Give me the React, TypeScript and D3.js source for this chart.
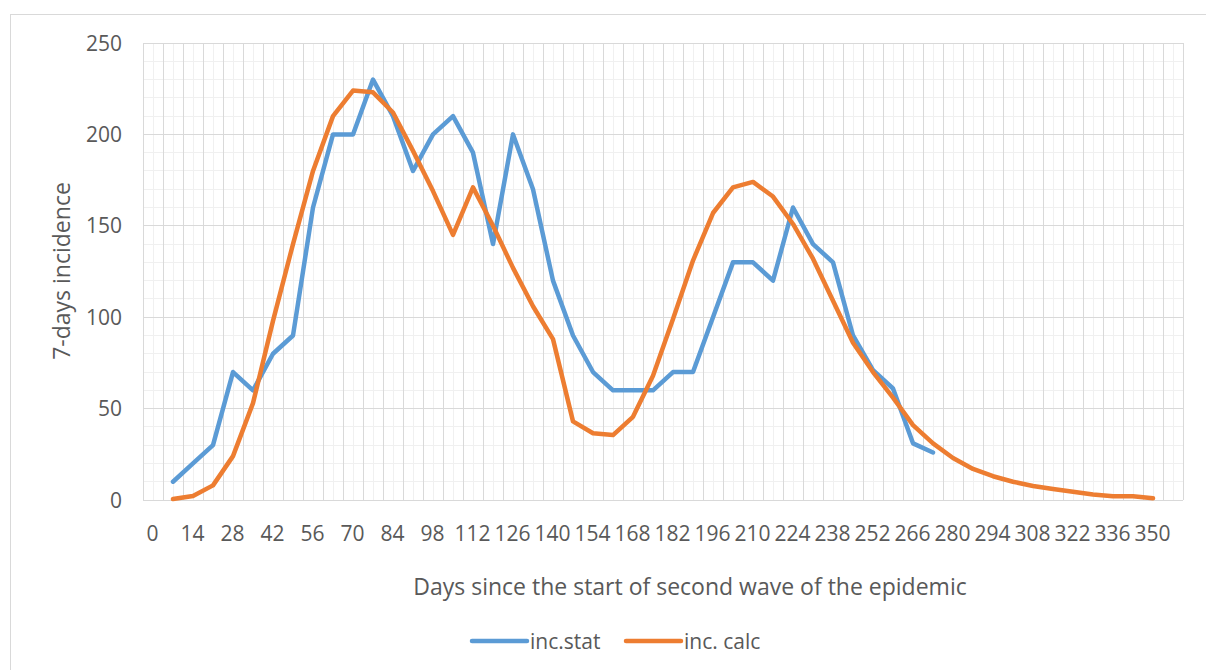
import React, { useRef, useEffect } from "react";
import * as d3 from "d3";

// categories on the x axis (days), labels shown on every second one
const days: number[] = [
  0, 7, 14, 21, 28, 35, 42, 49, 56, 63, 70, 77, 84, 91, 98, 105, 112, 119, 126, 133,
  140, 147, 154, 161, 168, 175, 182, 189, 196, 203, 210, 217, 224, 231, 238, 245, 252,
  259, 266, 273, 280, 287, 294, 301, 308, 315, 322, 329, 336, 343, 350, 357,
];

// observed 7-days incidence
const incStat: (number | null)[] = [
  null, 10, 20, 30, 70, 60, 80, 90, 160, 200, 200, 230, 210, 180, 200, 210, 190, 140, 200, 170,
  120, 90, 70, 60, 60, 60, 70, 70, 100, 130, 130, 120, 160, 140, 130, 90, 71, 61, 31, 26,
  null, null, null, null, null, null, null, null, null, null, null, null,
];

// calculated 7-days incidence
const incCalc: (number | null)[] = [
  null, 0.5, 2.2, 8, 24, 53, 98, 140, 180, 210, 224, 223, 212, 191, 169, 145, 171, 150, 127, 106,
  88, 43, 36.5, 35.5, 45.5, 68, 99, 131, 157, 171, 174, 166, 151, 132, 109, 86, 70, 56, 41, 31,
  23, 17, 13, 10, 7.7, 6, 4.5, 3, 2, 2, 1, null,
];

const yTicks = [0, 50, 100, 150, 200, 250];

const series = [
  { name: "inc.stat", values: incStat, color: "#5B9BD5" },
  { name: "inc. calc", values: incCalc, color: "#ED7D31" },
];

const W = 1206;
const H = 670;
const margin = { left: 143, right: 23, top: 43, bottom: 170 };
const FONT = "'Open Sans', sans-serif";
const TEXT = "#595959";

const App: React.FC = () => {
  const ref = useRef<SVGSVGElement | null>(null);

  useEffect(() => {
    if (!ref.current) return;
    const svg = d3.select(ref.current);
    svg.selectAll("*").remove();

    const x0 = margin.left;
    const x1 = W - margin.right;
    const y0 = H - margin.bottom;
    const y1 = margin.top;

    const x = d3.scaleBand<number>().domain(days).range([x0, x1]).paddingInner(0).paddingOuter(0);
    const y = d3.scaleLinear().domain([0, 250]).range([y0, y1]);
    const bw = x.bandwidth();

    // outer chart border
    svg.append("rect")
      .attr("x", 10.5).attr("y", 14.5)
      .attr("width", W + 20).attr("height", H + 20)
      .attr("fill", "none").attr("stroke", "#d9d9d9");

    const grid = svg.append("g").attr("shape-rendering", "crispEdges");

    // minor horizontal gridlines every 10
    grid.selectAll("line.hmin")
      .data(d3.range(0, 251, 10).filter((v) => v % 50 !== 0))
      .join("line")
      .attr("x1", x0).attr("x2", x1)
      .attr("y1", (d) => y(d)).attr("y2", (d) => y(d))
      .attr("stroke", "#f0f0f0");

    // minor vertical gridlines at category centres
    grid.selectAll("line.vmin")
      .data(days)
      .join("line")
      .attr("x1", (d) => x(d)! + bw / 2).attr("x2", (d) => x(d)! + bw / 2)
      .attr("y1", y1).attr("y2", y0)
      .attr("stroke", "#f0f0f0");

    // major vertical gridlines at category boundaries
    grid.selectAll("line.vmaj")
      .data([...days.map((d) => x(d)!), x1])
      .join("line")
      .attr("x1", (d) => d).attr("x2", (d) => d)
      .attr("y1", y1).attr("y2", y0)
      .attr("stroke", "#d9d9d9");

    // major horizontal gridlines
    grid.selectAll("line.hmaj")
      .data(yTicks)
      .join("line")
      .attr("x1", x0).attr("x2", x1)
      .attr("y1", (d) => y(d)).attr("y2", (d) => y(d))
      .attr("stroke", "#d9d9d9");

    // y tick labels
    svg.append("g")
      .selectAll("text")
      .data(yTicks)
      .join("text")
      .attr("x", 122)
      .attr("y", (d) => y(d))
      .attr("dy", "0.36em")
      .attr("text-anchor", "end")
      .attr("font-family", FONT)
      .attr("font-size", 21)
      .attr("fill", TEXT)
      .text((d) => d);

    // x tick labels
    svg.append("g")
      .selectAll("text")
      .data(days.filter((_, i) => i % 2 === 0))
      .join("text")
      .attr("x", (d) => x(d)! + bw / 2 - 0.5)
      .attr("y", 541)
      .attr("text-anchor", "middle")
      .attr("font-family", FONT)
      .attr("font-size", 21)
      .attr("fill", TEXT)
      .text((d) => d);

    // lines
    series.forEach((s) => {
      const line = d3.line<number | null>()
        .defined((d) => d !== null)
        .x((_, i) => x(days[i])! + bw / 2)
        .y((d) => y(d as number));
      svg.append("path")
        .datum(s.values)
        .attr("d", line)
        .attr("fill", "none")
        .attr("stroke", s.color)
        .attr("stroke-width", 4.5)
        .attr("stroke-linejoin", "round")
        .attr("stroke-linecap", "round");
    });

    // axis titles
    svg.append("text")
      .attr("x", 690).attr("y", 595)
      .attr("text-anchor", "middle")
      .attr("font-family", FONT).attr("font-size", 23)
      .attr("fill", TEXT)
      .text("Days since the start of second wave of the epidemic");

    svg.append("text")
      .attr("transform", "translate(70,271) rotate(-90)")
      .attr("text-anchor", "middle")
      .attr("font-family", FONT).attr("font-size", 23)
      .attr("fill", TEXT)
      .text("7-days incidence");

    // legend
    const legendX = [472, 626];
    const lg = svg.append("g");
    series.forEach((s, i) => {
      lg.append("line")
        .attr("x1", legendX[i]).attr("x2", legendX[i] + 55)
        .attr("y1", 641).attr("y2", 641)
        .attr("stroke", s.color).attr("stroke-width", 4.5)
        .attr("stroke-linecap", "round");
      lg.append("text")
        .attr("x", legendX[i] + 58).attr("y", 649)
        .attr("font-family", FONT).attr("font-size", 21)
        .attr("fill", TEXT)
        .text(s.name);
    });
  }, []);

  return (
    <svg
      ref={ref}
      width={W}
      height={H}
      style={{ position: "absolute", left: 0, top: 0, background: "#fff" }}
    />
  );
};

export default App;
